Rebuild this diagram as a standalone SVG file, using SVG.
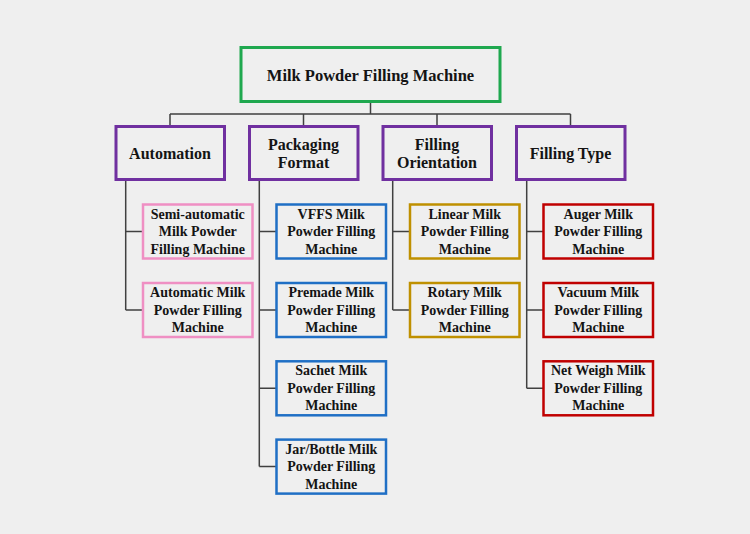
<svg xmlns="http://www.w3.org/2000/svg" width="750" height="534" viewBox="0 0 750 534">
<style>
text{font-family:"Liberation Serif","Times New Roman",serif;font-weight:bold;fill:#141414;text-anchor:middle;dominant-baseline:central}
.t1{font-size:16.5px}
.t2{font-size:16px}
.t3{font-size:14px}
rect.box{fill:#efefef}
.root{stroke:#1fa84f;stroke-width:3}
.cat{stroke:#7030a0;stroke-width:3}
.pink{stroke:#ef8fc3;stroke-width:2.5}
.blue{stroke:#1f6fc5;stroke-width:2.5}
.gold{stroke:#bf9000;stroke-width:2.5}
.red{stroke:#c00000;stroke-width:2.5}
#connectors path{fill:none;stroke:#404040;stroke-width:1.5}
</style>
<rect width="750" height="534" fill="#efefef"/>
<g id="connectors">
<path d="M370.5 103V114M170 114H570.5M170 114V125M303.5 114V125M437 114V125M570.5 114V125"/>
<path d="M125.7 181V310M125.7 231.5H143M125.7 310H143"/>
<path d="M259.3 181V466.6M259.3 231.5H276.5M259.3 310H276.5M259.3 388.3H276.5M259.3 466.6H276.5"/>
<path d="M392.7 181V310M392.7 231.5H410M392.7 310H410"/>
<path d="M526.7 181V388.3M526.7 231.5H543.5M526.7 310H543.5M526.7 388.3H543.5"/>
</g>
<g id="root"><rect class="box root" x="241" y="47.5" width="259" height="54"/><text class="t1" x="370.5" y="75">Milk Powder Filling Machine</text></g>
<g id="automation"><rect class="box cat" x="116" y="126.5" width="108.5" height="53"/><text class="t2" x="170" y="153">Automation</text></g>
<g id="packaging"><rect class="box cat" x="249.5" y="126.5" width="108.5" height="53"/><text class="t2" x="303.5" y="144">Packaging</text><text class="t2" x="303.5" y="162.5">Format</text></g>
<g id="orientation"><rect class="box cat" x="383" y="126.5" width="108.5" height="53"/><text class="t2" x="437" y="144">Filling</text><text class="t2" x="437" y="162.5">Orientation</text></g>
<g id="filltype"><rect class="box cat" x="516.5" y="126.5" width="108.5" height="53"/><text class="t2" x="570.5" y="153">Filling Type</text></g>

<g id="semi"><rect class="box pink" x="143" y="204.5" width="109.5" height="54"/><text class="t3" x="197.75" y="214">Semi-automatic</text><text class="t3" x="197.75" y="231.5">Milk Powder</text><text class="t3" x="197.75" y="249">Filling Machine</text></g>
<g id="auto"><rect class="box pink" x="143" y="283" width="109.5" height="54"/><text class="t3" x="197.75" y="292.5">Automatic Milk</text><text class="t3" x="197.75" y="310">Powder Filling</text><text class="t3" x="197.75" y="327.5">Machine</text></g>

<g id="vffs"><rect class="box blue" x="276.5" y="204.5" width="109.5" height="54"/><text class="t3" x="331.25" y="214">VFFS Milk</text><text class="t3" x="331.25" y="231.5">Powder Filling</text><text class="t3" x="331.25" y="249">Machine</text></g>
<g id="premade"><rect class="box blue" x="276.5" y="283" width="109.5" height="54"/><text class="t3" x="331.25" y="292.5">Premade Milk</text><text class="t3" x="331.25" y="310">Powder Filling</text><text class="t3" x="331.25" y="327.5">Machine</text></g>
<g id="sachet"><rect class="box blue" x="276.5" y="361.3" width="109.5" height="54"/><text class="t3" x="331.25" y="370.8">Sachet Milk</text><text class="t3" x="331.25" y="388.3">Powder Filling</text><text class="t3" x="331.25" y="405.8">Machine</text></g>
<g id="jar"><rect class="box blue" x="276.5" y="439.6" width="109.5" height="54"/><text class="t3" x="331.25" y="449.1">Jar/Bottle Milk</text><text class="t3" x="331.25" y="466.6">Powder Filling</text><text class="t3" x="331.25" y="484.1">Machine</text></g>

<g id="linear"><rect class="box gold" x="410" y="204.5" width="109.5" height="54"/><text class="t3" x="464.75" y="214">Linear Milk</text><text class="t3" x="464.75" y="231.5">Powder Filling</text><text class="t3" x="464.75" y="249">Machine</text></g>
<g id="rotary"><rect class="box gold" x="410" y="283" width="109.5" height="54"/><text class="t3" x="464.75" y="292.5">Rotary Milk</text><text class="t3" x="464.75" y="310">Powder Filling</text><text class="t3" x="464.75" y="327.5">Machine</text></g>

<g id="auger"><rect class="box red" x="543.5" y="204.5" width="109.5" height="54"/><text class="t3" x="598.25" y="214">Auger Milk</text><text class="t3" x="598.25" y="231.5">Powder Filling</text><text class="t3" x="598.25" y="249">Machine</text></g>
<g id="vacuum"><rect class="box red" x="543.5" y="283" width="109.5" height="54"/><text class="t3" x="598.25" y="292.5">Vacuum Milk</text><text class="t3" x="598.25" y="310">Powder Filling</text><text class="t3" x="598.25" y="327.5">Machine</text></g>
<g id="netweigh"><rect class="box red" x="543.5" y="361.3" width="109.5" height="54"/><text class="t3" x="598.25" y="370.8">Net Weigh Milk</text><text class="t3" x="598.25" y="388.3">Powder Filling</text><text class="t3" x="598.25" y="405.8">Machine</text></g>
</svg>
